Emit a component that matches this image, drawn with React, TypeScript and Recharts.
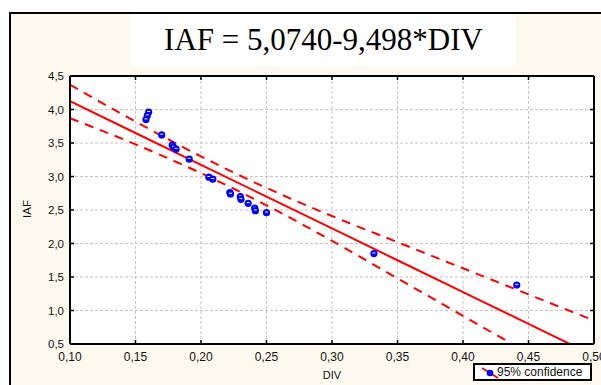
import React from "react";
import { ComposedChart, Line, Scatter, XAxis, YAxis, CartesianGrid } from "recharts";

// Observed points (DIV, IAF)
const divValues = [0.160, 0.159, 0.158, 0.170, 0.178, 0.179, 0.181, 0.191, 0.206, 0.209, 0.222, 0.2225, 0.230, 0.2305, 0.236, 0.241, 0.2415, 0.250, 0.332, 0.441];
const iafValues = [3.96, 3.91, 3.85, 3.62, 3.47, 3.44, 3.41, 3.26, 2.99, 2.96, 2.76, 2.74, 2.70, 2.66, 2.60, 2.53, 2.49, 2.46, 1.85, 1.38];

// Fitted line and 95% confidence band, read at these DIV values
const bandX = [0.10, 0.15, 0.20, 0.25, 0.30, 0.35, 0.40, 0.45, 0.50];
const fitY = [4.124, 3.649, 3.174, 2.700, 2.225, 1.750, 1.275, 0.800, 0.325];
const upperY = [4.37, 3.82, 3.30, 2.83, 2.41, 2.02, 1.63, 1.24, 0.85];
const lowerY = [3.87, 3.48, 3.05, 2.57, 2.04, 1.48, 0.92, 0.36, -0.20];

const xTicks = [0.10, 0.15, 0.20, 0.25, 0.30, 0.35, 0.40, 0.45, 0.50];
const yTicks = [0.5, 1.0, 1.5, 2.0, 2.5, 3.0, 3.5, 4.0, 4.5];

const titleText = "IAF = 5,0740-9,498*DIV";
const xLabel = "DIV";
const yLabel = "IAF";
const legendText = "95% confidence";

const points = divValues.map((x, i) => ({ x, y: iafValues[i] }));
const bandData = bandX.map((x, i) => ({ x, fit: fitY[i], upper: upperY[i], lower: lowerY[i] }));

const FONT = "'Liberation Sans', Arial, sans-serif";
const fmt2 = (v: number) => v.toFixed(2).replace(".", ",");
const fmt1 = (v: number) => v.toFixed(1).replace(".", ",");

const LeftTick = (p: any) => {
  const { x, y, payload } = p;
  return (
    <g>
      <text x={x} y={y} dy={4} textAnchor="end" fontSize={11.5} fontFamily={FONT} fill="#111">
        {fmt1(payload.value)}
      </text>
      <line x1={x + 6} x2={x + 10} y1={y} y2={y} stroke="#000" strokeWidth={1.5} />
    </g>
  );
};
const RightTick = (p: any) => {
  const { x, y } = p;
  return <line x1={x - 4} x2={x} y1={y} y2={y} stroke="#000" strokeWidth={1.5} />;
};
const BottomTick = (p: any) => {
  const { x, y, payload } = p;
  return (
    <g>
      <text x={x} y={y} dy={8.5} textAnchor="middle" fontSize={12} fontFamily={FONT} fill="#111">
        {fmt2(payload.value)}
      </text>
      <line x1={x} x2={x} y1={y - 8} y2={y - 12} stroke="#000" strokeWidth={1.5} />
    </g>
  );
};
const TopTick = (p: any) => {
  const { x, y } = p;
  return <line x1={x} x2={x} y1={y} y2={y + 4} stroke="#000" strokeWidth={1.5} />;
};

const Dot = (p: any) => {
  const { cx, cy } = p;
  if (cx == null || cy == null) return null;
  return (
    <g>
      <circle cx={cx} cy={cy} r={3.6} fill="#0000ff" />
      <rect x={cx - 1.5} y={cy - 1.2} width={3} height={1} fill="#ffffff" />
    </g>
  );
};

export default function App() {
  return (
    <div style={{ position: "absolute", left: 0, top: 0, width: 601, height: 385, overflow: "hidden", background: "#fff" }}>
      <div
        style={{
          position: "absolute",
          left: 9,
          top: 12,
          width: 640,
          height: 420,
          border: "2px solid #000",
          background: "#fdf9ee",
        }}
      />
      <div
        style={{
          position: "absolute",
          left: 131,
          top: 14,
          width: 385,
          height: 52,
          background: "#fff",
          fontFamily: "'Liberation Serif', 'Times New Roman', serif",
          fontSize: 31,
          lineHeight: "52px",
          textAlign: "center",
          color: "#000",
          whiteSpace: "nowrap",
        }}
      >
        {titleText}
      </div>
      <div style={{ position: "absolute", left: 0, top: 0 }}>
        <ComposedChart width={601} height={385} margin={{ top: 66, right: 0, bottom: 0, left: 30 }}>
          <CartesianGrid
            xAxisId="bottom"
            yAxisId="left"
            fill="#ffffff"
            stroke="#c4c4c4"
            strokeDasharray="3 2"
            verticalValues={xTicks}
            horizontalValues={yTicks}
          />
          <XAxis
            xAxisId="bottom"
            type="number"
            dataKey="x"
            domain={[0.1, 0.5]}
            ticks={xTicks}
            allowDataOverflow
            height={41}
            tickSize={0}
            tickMargin={8}
            tick={<BottomTick />}
            axisLine={{ stroke: "#000", strokeWidth: 2 }}
            interval={0}
          />
          <XAxis
            xAxisId="top"
            orientation="top"
            type="number"
            dataKey="x"
            domain={[0.1, 0.5]}
            ticks={xTicks}
            allowDataOverflow
            height={10}
            tickSize={0}
            tickMargin={0}
            tick={<TopTick />}
            axisLine={{ stroke: "#000", strokeWidth: 2 }}
            interval={0}
          />
          <YAxis
            yAxisId="left"
            type="number"
            domain={[0.5, 4.5]}
            ticks={yTicks}
            allowDataOverflow
            width={40}
            tickSize={0}
            tickMargin={6}
            tick={<LeftTick />}
            axisLine={{ stroke: "#000", strokeWidth: 2 }}
            interval={0}
          />
          <YAxis
            yAxisId="right"
            orientation="right"
            type="number"
            domain={[0.5, 4.5]}
            ticks={yTicks}
            allowDataOverflow
            width={7}
            tickSize={0}
            tickMargin={0}
            tick={<RightTick />}
            axisLine={{ stroke: "#000", strokeWidth: 2 }}
            interval={0}
          />
          <Line
            xAxisId="bottom"
            yAxisId="left"
            data={bandData}
            dataKey="upper"
            type="monotone"
            stroke="#ff0000"
            strokeWidth={2}
            strokeDasharray="9 7"
            dot={false}
            activeDot={false}
            isAnimationActive={false}
          />
          <Line
            xAxisId="bottom"
            yAxisId="left"
            data={bandData}
            dataKey="lower"
            type="monotone"
            stroke="#ff0000"
            strokeWidth={2}
            strokeDasharray="9 7"
            dot={false}
            activeDot={false}
            isAnimationActive={false}
          />
          <Line
            xAxisId="bottom"
            yAxisId="left"
            data={bandData}
            dataKey="fit"
            type="linear"
            stroke="#ff0000"
            strokeWidth={2}
            dot={false}
            activeDot={false}
            isAnimationActive={false}
          />
          <Scatter
            xAxisId="bottom"
            yAxisId="left"
            data={points}
            dataKey="y"
            fill="#0000ff"
            shape={<Dot />}
            isAnimationActive={false}
          />
        </ComposedChart>
      </div>
      <div
        style={{
          position: "absolute",
          left: 0,
          top: 369,
          width: 664,
          textAlign: "center",
          fontFamily: FONT,
          fontSize: 11,
          color: "#111",
        }}
      >
        {xLabel}
      </div>
      <div
        style={{
          position: "absolute",
          left: 7,
          top: 203,
          width: 40,
          textAlign: "center",
          fontFamily: FONT,
          fontSize: 11.5,
          color: "#111",
          transform: "rotate(-90deg)",
        }}
      >
        {yLabel}
      </div>
      <div
        style={{
          position: "absolute",
          left: 473,
          top: 363,
          width: 119,
          height: 18,
          boxSizing: "border-box",
          border: "2px solid #000",
          background: "#fff",
        }}
      >
        <svg width={22} height={14} style={{ position: "absolute", left: 4, top: 0 }}>
          <line x1={3} y1={3} x2={19} y2={13} stroke="#ff0000" strokeWidth={2} />
          <circle cx={11} cy={8} r={3.3} fill="#0000ff" />
        </svg>
        <div
          style={{
            position: "absolute",
            left: 22,
            top: 0,
            lineHeight: "14px",
            fontFamily: FONT,
            fontSize: 12,
            color: "#111",
            whiteSpace: "nowrap",
          }}
        >
          {legendText}
        </div>
      </div>
    </div>
  );
}
